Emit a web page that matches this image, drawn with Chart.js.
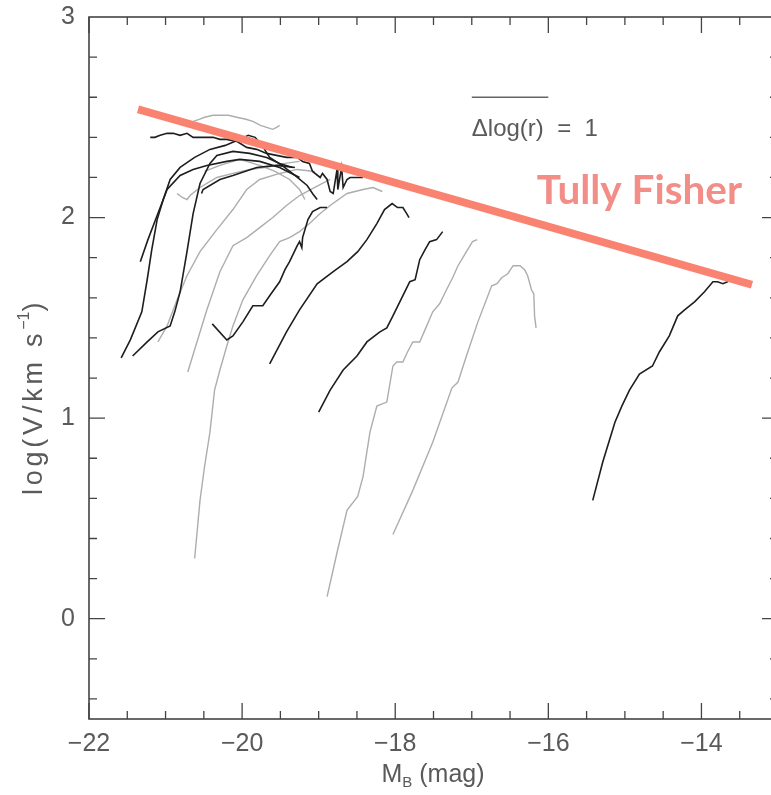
<!DOCTYPE html>
<html>
<head>
<meta charset="utf-8">
<script src="https://cdn.jsdelivr.net/npm/chart.js@4.4.0/dist/chart.umd.min.js"></script>
<style>
  body { margin: 0; background: #fff; }
  #wrap { width: 771px; height: 795px; overflow: hidden; }
</style>
</head>
<body>
<div id="wrap"><canvas id="rcChart" width="790" height="795"></canvas></div>
<script>
// tick labels
const xTickLabels = [-22, -20, -18, -16, -14];
const yTickLabels = [0, 1, 2, 3];

// rotation curves as [M_B, log V] pairs
const grayCurves = [
  [[-20.64,2.48],[-20.56,2.49],[-20.49,2.50],[-20.38,2.51],[-20.29,2.51],[-20.18,2.51],[-20.07,2.50],[-19.95,2.49],[-19.86,2.48],[-19.76,2.46],[-19.68,2.45],[-19.60,2.44],[-19.55,2.45],[-19.51,2.46]],
  [[-20.62,0.30],[-20.55,0.59],[-20.49,0.76],[-20.42,0.93],[-20.36,1.14],[-20.29,1.24],[-20.20,1.36],[-20.12,1.46],[-19.99,1.59],[-19.81,1.71],[-19.64,1.81],[-19.51,1.88],[-19.38,1.90],[-19.25,1.93],[-19.12,1.97],[-18.98,2.02],[-18.85,2.06],[-18.63,2.12],[-18.42,2.14],[-18.29,2.15],[-18.17,2.13]],
  [[-20.71,1.23],[-20.59,1.38],[-20.46,1.54],[-20.29,1.73],[-20.12,1.86],[-19.94,1.90],[-19.77,1.95],[-19.60,2.00],[-19.42,2.06],[-19.25,2.11],[-19.05,2.15],[-18.85,2.19]],
  [[-21.10,1.38],[-20.98,1.46],[-20.85,1.59],[-20.72,1.71],[-20.55,1.83],[-20.33,1.94],[-20.12,2.04],[-19.94,2.14],[-19.77,2.19],[-19.51,2.22],[-19.28,2.24],[-19.05,2.23]],
  [[-20.85,2.12],[-20.78,2.10],[-20.72,2.09],[-20.68,2.11],[-20.55,2.15],[-20.33,2.20],[-20.12,2.22],[-19.90,2.24],[-19.68,2.25],[-19.44,2.27],[-19.25,2.28]],
  [[-20.49,2.23],[-20.29,2.26],[-20.03,2.29],[-19.77,2.26],[-19.57,2.23],[-19.38,2.19],[-19.25,2.14],[-19.18,2.09]],
  [[-18.89,0.11],[-18.76,0.33],[-18.63,0.54],[-18.49,0.61],[-18.42,0.71],[-18.33,0.93],[-18.24,1.06],[-18.11,1.08],[-18.03,1.26],[-17.98,1.28],[-17.90,1.28],[-17.84,1.33],[-17.77,1.38],[-17.68,1.38],[-17.60,1.45],[-17.51,1.53],[-17.42,1.57],[-17.33,1.64],[-17.25,1.70],[-17.18,1.76],[-17.07,1.83],[-16.99,1.88],[-16.93,1.89]],
  [[-18.03,0.42],[-17.77,0.64],[-17.51,0.88],[-17.26,1.15],[-17.18,1.18],[-17.07,1.31],[-16.92,1.48],[-16.74,1.66],[-16.67,1.67],[-16.61,1.70],[-16.53,1.72],[-16.46,1.76],[-16.37,1.76],[-16.31,1.74],[-16.27,1.71],[-16.22,1.64],[-16.19,1.62],[-16.18,1.51],[-16.16,1.45]]
];

const blackCurves = [
  [[-21.58,1.30],[-21.46,1.39],[-21.31,1.53],[-21.24,1.69],[-21.18,1.84],[-21.11,1.99],[-21.03,2.09],[-20.94,2.19],[-20.81,2.25],[-20.62,2.30],[-20.42,2.34],[-20.22,2.36],[-20.03,2.39],[-19.92,2.41],[-19.83,2.40],[-19.74,2.36],[-19.64,2.30],[-19.48,2.26],[-19.31,2.21],[-19.15,2.16],[-19.08,2.12],[-19.02,2.09]],
  [[-21.43,1.31],[-21.24,1.38],[-21.10,1.43],[-20.94,1.46],[-20.88,1.53],[-20.81,1.63],[-20.72,1.83],[-20.64,2.02],[-20.55,2.17],[-20.42,2.27],[-20.33,2.31],[-20.12,2.33],[-19.90,2.32],[-19.68,2.30],[-19.51,2.27],[-19.34,2.25]],
  [[-21.33,1.78],[-21.23,1.89],[-21.11,2.01],[-20.98,2.14],[-20.81,2.21],[-20.64,2.24],[-20.46,2.26],[-20.20,2.28],[-20.03,2.29],[-19.77,2.28],[-19.51,2.25],[-19.25,2.20]],
  [[-20.53,2.12],[-20.51,2.14],[-20.29,2.19],[-20.12,2.21],[-19.81,2.25],[-19.55,2.26],[-19.31,2.25]],
  [[-21.20,2.40],[-21.14,2.40],[-21.07,2.41],[-20.98,2.42],[-20.90,2.42],[-20.81,2.41],[-20.72,2.42],[-20.64,2.40],[-20.55,2.40],[-20.46,2.40],[-20.38,2.40],[-20.29,2.39],[-20.20,2.39],[-20.07,2.38],[-19.94,2.35],[-19.81,2.34],[-19.68,2.32],[-19.55,2.31],[-19.42,2.30],[-19.28,2.30],[-19.21,2.28],[-19.12,2.27],[-19.08,2.23],[-18.98,2.20],[-18.95,2.22],[-18.89,2.19],[-18.85,2.13],[-18.81,2.12],[-18.76,2.24],[-18.75,2.14],[-18.70,2.25],[-18.68,2.15],[-18.63,2.19],[-18.59,2.20],[-18.50,2.20],[-18.42,2.20]],
  [[-20.39,1.47],[-20.20,1.39],[-20.12,1.41],[-19.99,1.48],[-19.86,1.56],[-19.73,1.56],[-19.64,1.61],[-19.51,1.68],[-19.44,1.74],[-19.38,1.78],[-19.28,1.86],[-19.25,1.88],[-19.22,1.85],[-19.21,1.90],[-19.14,1.99],[-19.08,2.03],[-18.98,2.05],[-18.89,2.05]],
  [[-19.64,1.27],[-19.42,1.43],[-19.25,1.54],[-19.02,1.67],[-18.81,1.73],[-18.63,1.78],[-18.49,1.83],[-18.37,1.89],[-18.24,1.97],[-18.14,2.04],[-18.04,2.07],[-17.97,2.05],[-17.90,2.05],[-17.85,2.02],[-17.82,2.00]],
  [[-19.00,1.03],[-18.85,1.14],[-18.68,1.24],[-18.50,1.31],[-18.37,1.38],[-18.20,1.43],[-18.11,1.45],[-18.03,1.51],[-17.94,1.58],[-17.81,1.68],[-17.74,1.69],[-17.68,1.79],[-17.61,1.84],[-17.55,1.88],[-17.46,1.89],[-17.38,1.93]],
  [[-15.42,0.59],[-15.29,0.78],[-15.13,0.98],[-15.04,1.06],[-14.94,1.14],[-14.81,1.22],[-14.64,1.26],[-14.55,1.33],[-14.42,1.41],[-14.31,1.51],[-14.22,1.54],[-14.09,1.58],[-13.96,1.63],[-13.85,1.68],[-13.79,1.68],[-13.72,1.67],[-13.66,1.68],[-13.63,1.69]]
];

// Tully-Fisher relation
const tfMag = [-21.36, -13.34];
const tfLogV = [2.54, 1.665];

// scale bar for delta log(r) = 1
const barMag = [-17, -16];
const barLogV = [2.6, 2.6];

const FONT = "'Liberation Sans', Arial, sans-serif";
const TEXT_GRAY = "#5a5a5a";

function pairs(c) {
  return c.map(p => ({ x: p[0], y: p[1] }));
}

const lineBase = { showLine: true, pointRadius: 0, fill: false, tension: 0 };

const datasets = [];
datasets.push(Object.assign({}, lineBase, {
  data: tfMag.map((m, i) => ({ x: m, y: tfLogV[i] })),
  borderColor: "#fa8270", borderWidth: 8, order: 0
}));
blackCurves.forEach(c => datasets.push(Object.assign({}, lineBase, {
  data: pairs(c), borderColor: "#1e1e1e", borderWidth: 1.6, order: 1
})));
grayCurves.forEach(c => datasets.push(Object.assign({}, lineBase, {
  data: pairs(c), borderColor: "#adadad", borderWidth: 1.4, order: 2
})));
datasets.push(Object.assign({}, lineBase, {
  data: barMag.map((m, i) => ({ x: m, y: barLogV[i] })),
  borderColor: "#666", borderWidth: 1.5, order: 1
}));

// frame with inward ticks + annotations
const framePlugin = {
  id: "frame",
  afterDraw(chart) {
    const { ctx, scales: { x, y } } = chart;
    const left = x.getPixelForValue(-22), right = x.getPixelForValue(-13);
    const top = y.getPixelForValue(3), bottom = y.getPixelForValue(-0.5);
    ctx.save();
    ctx.strokeStyle = "#444";
    ctx.lineWidth = 1.6;
    ctx.strokeRect(left, top, right - left, bottom - top);

    ctx.lineWidth = 1.3;
    ctx.beginPath();
    for (let v = -22; v <= -13.001; v += 0.5) {
      const px = x.getPixelForValue(v);
      const len = xTickLabels.includes(v) ? 16 : 8;
      ctx.moveTo(px, bottom); ctx.lineTo(px, bottom - len);
      ctx.moveTo(px, top); ctx.lineTo(px, top + len);
    }
    for (let i = -2; i <= 14; i++) {
      const v = i / 5;
      const py = y.getPixelForValue(v);
      const len = yTickLabels.includes(v) ? 16 : 8;
      ctx.moveTo(left, py); ctx.lineTo(left + len, py);
      ctx.moveTo(right, py); ctx.lineTo(right - len, py);
    }
    ctx.stroke();

    // delta log(r) label under the scale bar
    ctx.fillStyle = TEXT_GRAY;
    ctx.font = "24px " + FONT;
    ctx.textBaseline = "middle";
    ctx.textAlign = "left";
    ctx.fillText("\u0394log(r)  =  1", x.getPixelForValue(-17), y.getPixelForValue(2.44));

    // Tully Fisher label
    ctx.fillStyle = "#f28d88";
    ctx.font = "bold 36px Lato, 'Open Sans', sans-serif";
    const w = ctx.measureText("Tully Fisher").width;
    const size = 36 * 205 / w;
    ctx.font = "bold " + size.toFixed(1) + "px Lato, 'Open Sans', sans-serif";
    ctx.textBaseline = "alphabetic";
    ctx.fillText("Tully Fisher", x.getPixelForValue(-16.15), y.getPixelForValue(2.07));

    // x axis title: M_B (mag)
    ctx.fillStyle = TEXT_GRAY;
    const bigF = "25px " + FONT, subF = "15px " + FONT;
    ctx.font = bigF; const wM = ctx.measureText("M").width;
    const wRest = ctx.measureText(" (mag)").width;
    ctx.font = subF; const wB = ctx.measureText("B").width;
    let cx = 433 - (wM + wB + wRest) / 2;
    const base = 782;
    ctx.font = bigF; ctx.fillText("M", cx, base); cx += wM;
    ctx.font = subF; ctx.fillText("B", cx, base + 5); cx += wB;
    ctx.font = bigF; ctx.fillText(" (mag)", cx, base);

    // y axis title: log(V/km s^-1), slightly letter-spaced
    const yF = "27px " + FONT, ySubF = "16px " + FONT;
    ctx.translate(35, 395);
    ctx.rotate(-Math.PI / 2);
    const parts = [["log(V/km s", yF, 0], ["\u22121", ySubF, -10], [")", yF, 0]];
    const chars = [];
    parts.forEach(p => { for (const ch of p[0]) chars.push([ch, p[1], p[2]]); });
    let natural = 0;
    chars.forEach(c => { ctx.font = c[1]; natural += ctx.measureText(c[0]).width; });
    const gap = Math.max(0, (200 - natural) / (chars.length - 1));
    let tx = -(natural + gap * (chars.length - 1)) / 2;
    ctx.textBaseline = "middle";
    chars.forEach(c => {
      ctx.font = c[1];
      ctx.fillText(c[0], tx, c[2]);
      tx += ctx.measureText(c[0]).width + (c[2] ? 0 : gap);
    });
    ctx.restore();
  }
};

new Chart(document.getElementById("rcChart"), {
  type: "scatter",
  data: { datasets: datasets },
  options: {
    responsive: false,
    animation: false,
    devicePixelRatio: 1,
    layout: { padding: { top: 17, right: 12, bottom: 0, left: 0 } },
    plugins: { legend: { display: false }, tooltip: { enabled: false } },
    scales: {
      x: {
        type: "linear", min: -22, max: -13,
        grid: { display: false, drawTicks: false },
        border: { display: false },
        afterBuildTicks: s => { s.ticks = xTickLabels.map(v => ({ value: v })); },
        afterFit: s => { s.height = 76; s.paddingLeft = 0; s.paddingRight = 0; },
        ticks: {
          color: TEXT_GRAY, font: { family: FONT, size: 25 }, padding: 10,
          maxRotation: 0, autoSkip: false,
          callback: v => "\u2212" + Math.abs(v)
        }
      },
      y: {
        type: "linear", min: -0.5, max: 3,
        grid: { display: false, drawTicks: false },
        border: { display: false },
        afterBuildTicks: s => { s.ticks = yTickLabels.map(v => ({ value: v })); },
        afterFit: s => { s.width = 89; s.paddingTop = 0; s.paddingBottom = 0; },
        ticks: {
          color: TEXT_GRAY, font: { family: FONT, size: 25 }, padding: 14,
          autoSkip: false,
          callback: v => String(v)
        }
      }
    }
  },
  plugins: [framePlugin]
});
</script>
</body>
</html>
